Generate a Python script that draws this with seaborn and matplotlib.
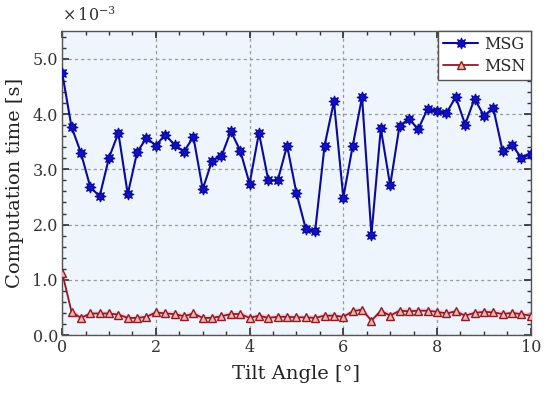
import numpy as np
import pandas as pd
import seaborn as sns
import matplotlib
matplotlib.use('Agg')
import matplotlib.pyplot as plt
from matplotlib.ticker import MultipleLocator

# tilt angle in degrees, 0 to 10 in steps of 0.2
tilt = [round(0.2 * i, 1) for i in range(51)]

# computation time, x 1e-3 s
msg = [4.75, 3.77, 3.30, 2.68, 2.51, 3.21, 3.66, 2.55, 3.31, 3.57,
       3.43, 3.63, 3.44, 3.32, 3.59, 2.64, 3.16, 3.24, 3.69, 3.34,
       2.74, 3.66, 2.80, 2.80, 3.43, 2.57, 1.92, 1.89, 3.43, 4.23,
       2.49, 3.42, 4.31, 1.81, 3.74, 2.71, 3.79, 3.91, 3.73, 4.10,
       4.05, 4.02, 4.31, 3.81, 4.28, 3.97, 4.11, 3.33, 3.44, 3.21,
       3.27]
msn = [1.13, 0.42, 0.31, 0.39, 0.39, 0.39, 0.37, 0.31, 0.31, 0.33,
       0.41, 0.39, 0.38, 0.34, 0.39, 0.31, 0.31, 0.34, 0.38, 0.38,
       0.31, 0.35, 0.31, 0.33, 0.33, 0.32, 0.32, 0.31, 0.35, 0.35,
       0.33, 0.43, 0.46, 0.26, 0.44, 0.35, 0.44, 0.43, 0.44, 0.44,
       0.42, 0.39, 0.43, 0.35, 0.40, 0.42, 0.41, 0.38, 0.40, 0.38,
       0.35]

df = pd.DataFrame({'tilt': tilt, 'MSG': msg, 'MSN': msn})

sns.set_theme(style='ticks')
plt.rcParams['font.family'] = ['DejaVu Serif']
plt.rcParams['mathtext.fontset'] = 'dejavuserif'

fig = plt.figure(figsize=(5.5, 3.96), dpi=100)
ax = fig.add_axes([0.113, 0.154, 0.852, 0.767])
ax.set_facecolor('#eef5fc')

ax.fill_between(df.tilt, df.MSN - 0.06, df.MSN + 0.06, color='#ffc8e6',
                alpha=0.7, lw=0, zorder=1)
sns.lineplot(data=df, x='tilt', y='MSG', ax=ax, color='#0a0a9c', lw=1.5,
             marker=(8, 1, 0), markersize=8, markerfacecolor='#1010c8',
             markeredgecolor='#0a0a9c', markeredgewidth=0.8, label='MSG',
             zorder=3)
sns.lineplot(data=df, x='tilt', y='MSN', ax=ax, color='#8c1c24', lw=1.3,
             marker='^', markersize=6, markerfacecolor='#f0b4a8',
             markeredgecolor='#8c1c24', markeredgewidth=1.0, label='MSN',
             zorder=3)

ax.set_xlim(0, 10)
ax.set_ylim(0, 5.5)
ax.xaxis.set_major_locator(MultipleLocator(2))
ax.xaxis.set_minor_locator(MultipleLocator(0.5))
ax.yaxis.set_major_locator(MultipleLocator(1))
ax.yaxis.set_minor_locator(MultipleLocator(0.2))
ax.yaxis.set_major_formatter(matplotlib.ticker.FormatStrFormatter('%.1f'))
ax.tick_params(which='both', direction='in', top=True, right=True,
               colors='#333333', labelcolor='#333333', labelsize=11.5)
ax.tick_params(which='major', length=5, pad=3)
ax.tick_params(which='minor', length=3)
ax.grid(True, which='major', ls=(0, (2.5, 2.5)), color='#999999', lw=0.9)
for s in ax.spines.values():
    s.set_color('#555555')
    s.set_linewidth(1.0)

ax.set_xlabel('Tilt Angle [°]', fontsize=14, color='#222222', labelpad=6)
ax.set_ylabel('Computation time [s]', fontsize=14, color='#222222', labelpad=6)
ax.text(0.0, 1.02, r'$\times\,10^{-3}$', transform=ax.transAxes,
        fontsize=11.5, color='#333333', ha='left', va='bottom')

leg = ax.legend(loc='upper right', fontsize=11.5, frameon=True, fancybox=False,
                borderaxespad=0.0, handlelength=2.2, borderpad=0.3,
                labelspacing=0.3, handletextpad=0.4)
leg.get_frame().set_edgecolor('#555555')
leg.get_frame().set_facecolor('white')
leg.get_frame().set_alpha(1.0)

fig.savefig('out.png', dpi=100)
